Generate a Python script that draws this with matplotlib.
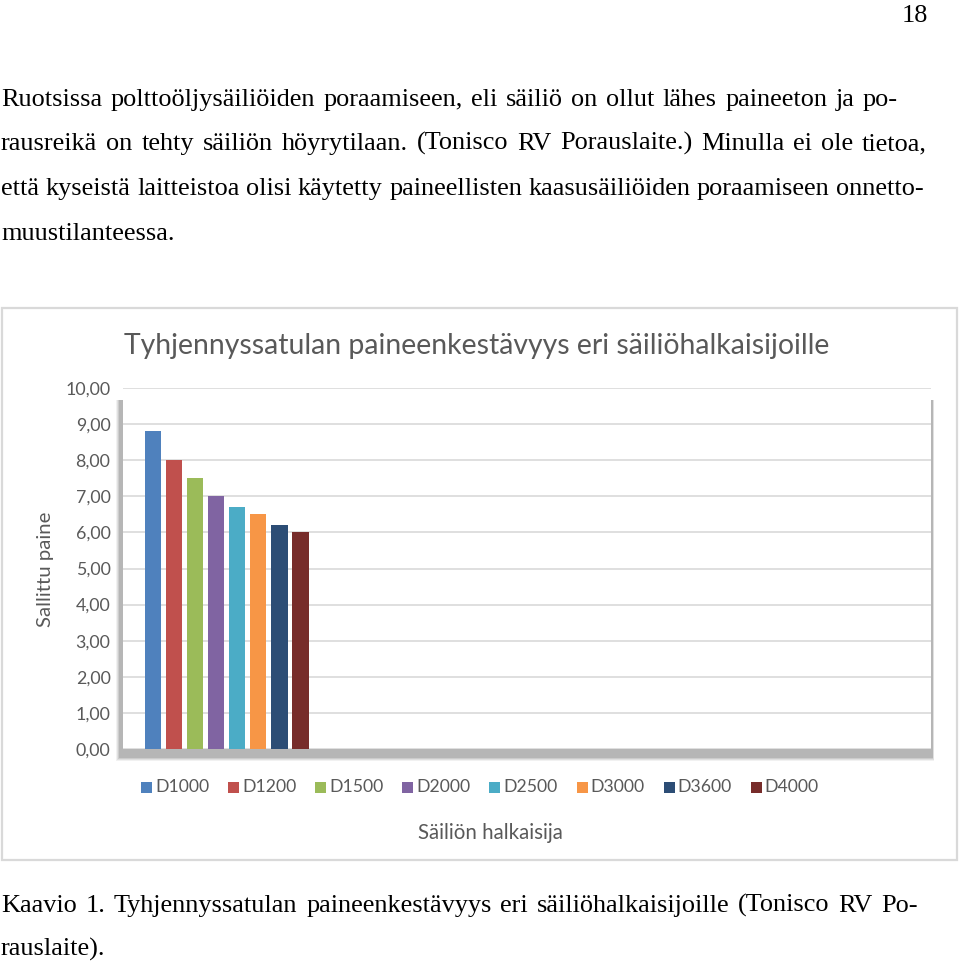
import matplotlib
matplotlib.use("Agg")
import matplotlib.pyplot as plt
from matplotlib.patches import Rectangle

# ---------------- data ----------------
categories = ["D1000", "D1200", "D1500", "D2000", "D2500", "D3000", "D3600", "D4000"]
values = [8.8, 8.0, 7.5, 7.0, 6.7, 6.5, 6.2, 6.0]
colors = ["#4F81BD", "#C0504D", "#9BBB59", "#8064A2", "#4BACC6", "#F79646", "#2C4D75", "#772C2A"]
yticks = [0, 1, 2, 3, 4, 5, 6, 7, 8, 9, 10]
ytick_labels = ["0,00", "1,00", "2,00", "3,00", "4,00", "5,00", "6,00", "7,00", "8,00", "9,00", "10,00"]
chart_title = "Tyhjennyssatulan paineenkestävyys eri säiliöhalkaisijoille"
y_label = "Sallittu paine"
x_label = "Säiliön halkaisija"
body_lines = [
    "Ruotsissa polttoöljysäiliöiden poraamiseen, eli säiliö on ollut lähes paineeton ja po-",
    "rausreikä on tehty säiliön höyrytilaan. (Tonisco RV Porauslaite.) Minulla ei ole tietoa,",
    "että kyseistä laitteistoa olisi käytetty paineellisten kaasusäiliöiden poraamiseen onnetto-",
    "muustilanteessa.",
]
caption_lines = [
    "Kaavio 1. Tyhjennyssatulan paineenkestävyys eri säiliöhalkaisijoille (Tonisco RV Po-",
    "rauslaite).",
]
page_number = "18"

W, H = 960, 964
fig = plt.figure(figsize=(W / 100, H / 100), dpi=100)
fig.patch.set_facecolor("white")
renderer = fig.canvas.get_renderer()


def fx(x):
    return x / W


def fy(y):
    return 1 - y / H


SERIF = "Liberation Serif"
SANS = "Lato"
GRAY = "#595959"


def text_width(s, size, family, **kw):
    t = fig.text(0, 0, s, fontsize=size, family=family, **kw)
    w = t.get_window_extent(renderer).width
    t.remove()
    return w


def fit_size(s, target, family, base=12.0, **kw):
    return base * target / text_width(s, base, family, **kw)


def justify(line, x0, x1, yb, size, do_justify=True):
    words = line.split(" ")
    widths = [text_width(w, size, SERIF) for w in words]
    sw = text_width("a a", size, SERIF) - 2 * text_width("a", size, SERIF)
    if do_justify and len(words) > 1:
        gap = (x1 - x0 - sum(widths)) / (len(words) - 1)
    else:
        gap = sw
    x = x0
    for w, wd in zip(words, widths):
        fig.text(fx(x), fy(yb), w, fontsize=size, family=SERIF, color="black",
                 va="baseline", ha="left")
        x += wd + gap


# calibrate body font size on a full justified line (natural width ~ line width)
BODY_SIZE = fit_size(body_lines[2], 922, SERIF)

body_baselines = [106, 150, 195, 240]
body_right = [898, 927, 924, None]
for line, yb, xr in zip(body_lines, body_baselines, body_right):
    justify(line, 1, xr if xr else 0, yb, BODY_SIZE, do_justify=xr is not None)

cap_baselines = [912, 956]
cap_right = [918, None]
for line, yb, xr in zip(caption_lines, cap_baselines, cap_right):
    justify(line, 1, xr if xr else 0, yb, BODY_SIZE, do_justify=xr is not None)

fig.text(fx(928), fy(22), page_number, fontsize=BODY_SIZE, family=SERIF,
         ha="right", va="baseline")

# ---------------- chart frame ----------------
fig.patches.append(Rectangle((fx(2), fy(860)), fx(955), (860 - 308) / H,
                             transform=fig.transFigure, facecolor="white",
                             edgecolor="#d9d9d9", lw=1.6, zorder=-5))

# plot area shadow (soft), mainly bottom/left
for i, a in enumerate([0.10, 0.14, 0.2, 0.28]):
    pad = 4 - i
    fig.patches.append(Rectangle((fx(120 - pad), fy(757 + pad)), (932 + pad / 2 - 120 + pad) / W,
                                 (757 - 400 + pad) / H, transform=fig.transFigure,
                                 facecolor="#7f7f7f", edgecolor="none", alpha=a, zorder=-2))

# ---------------- axes ----------------
ax_l, ax_r, ax_t, ax_b = 123, 931, 388, 749
ax = fig.add_axes([fx(ax_l), fy(ax_b), (ax_r - ax_l) / W, (ax_b - ax_t) / H])
ax.set_zorder(1)
ax.set_facecolor("white")
x = list(range(len(categories)))
ax.bar(x, values, width=0.77, color=colors, zorder=3)
spacing = 21.07
left = -(153 - ax_l) / spacing
ax.set_xlim(left, left + (ax_r - ax_l) / spacing)
ax.set_ylim(0, 10)
ax.set_yticks(yticks)
tick_size = fit_size("10,00", 45, SANS)
ax.set_yticklabels(ytick_labels, family=SANS, fontsize=tick_size, color=GRAY)
ax.tick_params(axis="y", length=0, pad=9)
ax.set_xticks([])
ax.grid(axis="y", color="#d9d9d9", lw=1.2, zorder=0)
for s in ax.spines.values():
    s.set_visible(False)

# title
fig.text(fx(477), fy(346), chart_title, family=SANS,
         fontsize=fit_size(chart_title, 701, SANS), color=GRAY, ha="center", va="center")
# y label
fig.text(fx(45), fy(569), y_label, family=SANS, fontsize=fit_size(y_label, 115, SANS),
         color=GRAY, ha="center", va="center", rotation=90)
# x label
fig.text(fx(490), fy(833), x_label, family=SANS, fontsize=fit_size(x_label, 145, SANS),
         color=GRAY, ha="center", va="center")

# legend
leg_x0, leg_step, leg_y = 141, 87.1, 787
leg_size = fit_size("D1000", 54, SANS)
for i, (c, col) in enumerate(zip(categories, colors)):
    mx = leg_x0 + i * leg_step
    fig.patches.append(Rectangle((fx(mx), fy(leg_y + 5.5)), 11 / W, 11 / H,
                                 transform=fig.transFigure, facecolor=col, edgecolor="none"))
    fig.text(fx(mx + 14), fy(leg_y), c, family=SANS, fontsize=leg_size, color=GRAY,
             ha="left", va="center")

fig.savefig("out.png", dpi=100, facecolor="white")
